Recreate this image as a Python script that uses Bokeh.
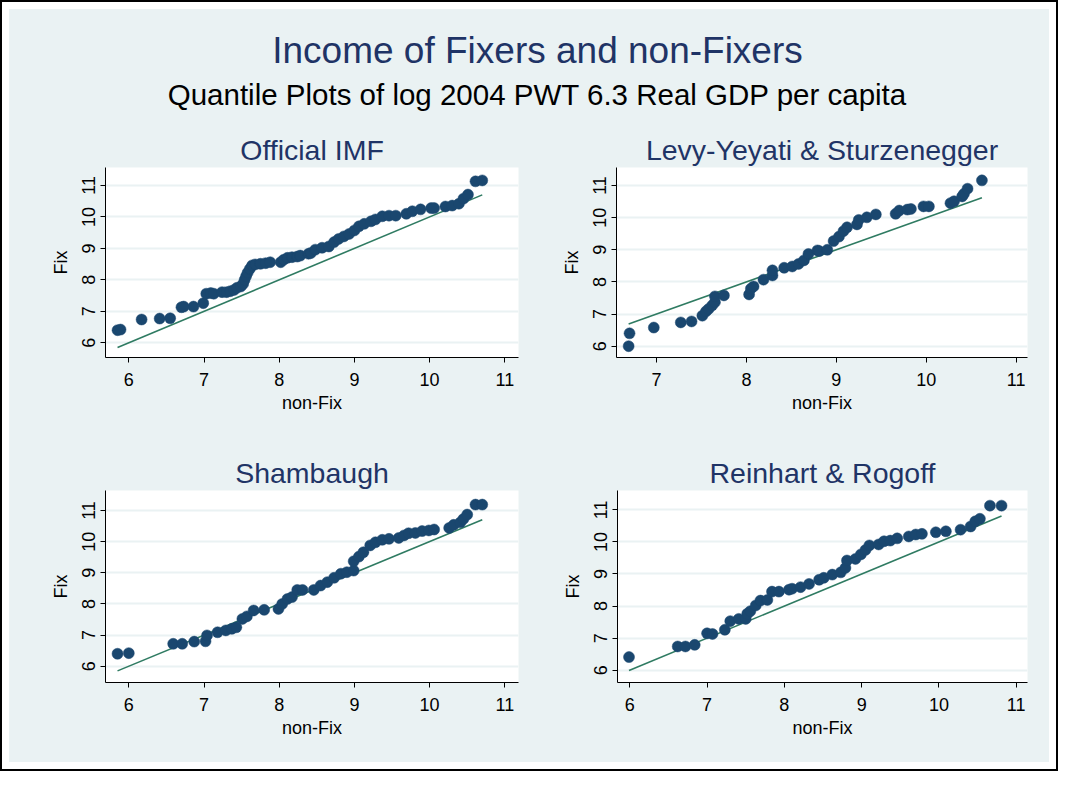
from bokeh.plotting import figure
from bokeh.layouts import column, row
from bokeh.models import Range1d, FixedTicker
from bokeh.embed import file_html
from bokeh.resources import INLINE
from bokeh.core.properties import value

# ---------------- data (quantiles) ----------------
main_title = "Income of Fixers and non-Fixers"
sub_title = "Quantile Plots of log 2004 PWT 6.3 Real GDP per capita"
panel_titles = ["Official IMF", "Levy-Yeyati & Sturzenegger", "Shambaugh", "Reinhart & Rogoff"]
x_label = "non-Fix"
y_label = "Fix"
tick_vals = [6, 7, 8, 9, 10, 11]

imf_nonfix = [5.85, 5.89, 6.17, 6.41, 6.55, 6.70, 6.73, 6.86, 6.99, 7.03, 7.09, 7.13, 7.24, 7.30, 7.35,
              7.40, 7.44, 7.49, 7.52, 7.54, 7.56, 7.58, 7.61, 7.64, 7.68, 7.75, 7.82, 7.88, 8.02, 8.06,
              8.11, 8.17, 8.24, 8.28, 8.39, 8.42, 8.48, 8.57, 8.66, 8.73, 8.79, 8.86, 8.93, 9.00, 9.06,
              9.13, 9.22, 9.28, 9.37, 9.46, 9.55, 9.69, 9.77, 9.88, 10.02, 10.06, 10.21, 10.30, 10.39,
              10.45, 10.51, 10.61, 10.70]
imf_fix = [6.40, 6.42, 6.74, 6.77, 6.78, 7.13, 7.15, 7.15, 7.26, 7.56, 7.58, 7.56, 7.61, 7.61, 7.64,
           7.68, 7.75, 7.79, 7.87, 8.00, 8.12, 8.23, 8.35, 8.46, 8.49, 8.51, 8.53, 8.56, 8.56, 8.64,
           8.70, 8.72, 8.74, 8.77, 8.83, 8.85, 8.96, 9.02, 9.06, 9.20, 9.30, 9.38, 9.46, 9.57, 9.70,
           9.78, 9.86, 9.92, 10.02, 10.04, 10.04, 10.10, 10.18, 10.24, 10.28, 10.28, 10.33, 10.36, 10.42,
           10.58, 10.71, 11.13, 11.16]

lys_nonfix = [6.69, 6.70, 6.97, 7.27, 7.39, 7.51, 7.55, 7.58, 7.62, 7.65, 7.65, 7.75, 8.03, 8.05, 8.08,
              8.19, 8.29, 8.29, 8.42, 8.51, 8.58, 8.64, 8.69, 8.79, 8.81, 8.90, 8.97, 9.03, 9.08, 9.12,
              9.23, 9.25, 9.34, 9.44, 9.66, 9.70, 9.79, 9.83, 9.97, 10.03, 10.27, 10.31, 10.40, 10.42,
              10.46, 10.62]
lys_fix = [6.00, 6.40, 6.58, 6.74, 6.77, 6.95, 7.08, 7.16, 7.27, 7.37, 7.55, 7.58, 7.61, 7.79, 7.86,
           8.07, 8.20, 8.36, 8.44, 8.48, 8.56, 8.67, 8.87, 8.98, 8.96, 9.00, 9.27, 9.41, 9.58, 9.70,
           9.79, 9.93, 10.01, 10.10, 10.12, 10.22, 10.25, 10.27, 10.35, 10.35, 10.45, 10.51, 10.66, 10.74,
           10.90, 11.16]

sham_nonfix = [5.85, 6.00, 6.59, 6.71, 6.87, 7.02, 7.04, 7.18, 7.29, 7.37, 7.43, 7.51, 7.57, 7.66, 7.80,
               7.99, 8.04, 8.11, 8.17, 8.24, 8.31, 8.46, 8.55, 8.64, 8.73, 8.82, 8.90, 8.99, 8.99, 9.06,
               9.12, 9.21, 9.28, 9.37, 9.46, 9.59, 9.66, 9.72, 9.81, 9.90, 9.99, 10.06, 10.26, 10.32,
               10.41, 10.45, 10.50, 10.61, 10.70]
sham_fix = [6.40, 6.42, 6.72, 6.72, 6.79, 6.80, 6.99, 7.09, 7.15, 7.20, 7.25, 7.52, 7.60, 7.79, 7.81,
            7.84, 8.00, 8.16, 8.22, 8.45, 8.45, 8.45, 8.59, 8.70, 8.84, 8.97, 9.02, 9.07, 9.37, 9.52,
            9.66, 9.88, 9.98, 10.06, 10.09, 10.12, 10.20, 10.27, 10.28, 10.34, 10.36, 10.39, 10.44, 10.54,
            10.62, 10.73, 10.87, 11.19, 11.19]

rr_nonfix = [5.99, 6.62, 6.72, 6.84, 7.00, 7.07, 7.23, 7.30, 7.41, 7.50, 7.52, 7.56, 7.63, 7.69, 7.78,
             7.84, 7.93, 8.06, 8.10, 8.21, 8.32, 8.45, 8.51, 8.62, 8.73, 8.79, 8.81, 8.92, 8.99, 9.05,
             9.10, 9.22, 9.29, 9.37, 9.46, 9.61, 9.70, 9.78, 9.96, 10.09, 10.28, 10.41, 10.47, 10.53,
             10.66, 10.81]
rr_fix = [6.41, 6.74, 6.74, 6.79, 7.15, 7.13, 7.26, 7.53, 7.60, 7.60, 7.76, 7.84, 8.02, 8.17, 8.19,
          8.45, 8.45, 8.51, 8.54, 8.59, 8.69, 8.82, 8.88, 8.98, 9.05, 9.19, 9.42, 9.47, 9.61, 9.75,
          9.89, 9.92, 10.02, 10.04, 10.11, 10.17, 10.23, 10.25, 10.30, 10.33, 10.38, 10.48, 10.64, 10.72,
          11.13, 11.13]

# ---------------- style ----------------
BG = "#EAF2F3"
NAVY = "#1A476F"
LINE_C = "#2F7B62"
TITLE_C = "#1F3466"
FONT = "Liberation Sans"


def panel(title, xs, ys, xr, yr, w, h, bl, br, bt, bb):
    p = figure(width=w, height=h, x_range=Range1d(*xr), y_range=Range1d(*yr),
               output_backend="svg", toolbar_location=None,
               min_border_left=bl, min_border_right=br, min_border_top=bt, min_border_bottom=bb)
    p.background_fill_color = "white"
    p.border_fill_color = BG
    p.outline_line_color = None
    p.title.text = title
    p.title.align = "center"
    p.title.text_font = FONT
    p.title.text_font_size = "28.5px"
    p.title.text_font_style = "normal"
    p.title.text_color = TITLE_C
    p.title.standoff = 4
    p.xgrid.visible = False
    p.ygrid.grid_line_color = BG
    p.ygrid.grid_line_width = 2
    for ax in (p.xaxis[0], p.yaxis[0]):
        ax.ticker = FixedTicker(ticks=tick_vals, minor_ticks=[])
        ax.axis_line_color = "black"
        ax.axis_line_width = 1
        ax.major_tick_line_color = "black"
        ax.major_tick_in = 0
        ax.major_tick_out = 5
        ax.major_label_text_font = FONT
        ax.major_label_text_font_size = "18px"
        ax.major_label_text_color = "black"
        ax.axis_label_text_font = FONT
        ax.axis_label_text_font_size = "18px"
        ax.axis_label_text_font_style = "normal"
        ax.axis_label_text_color = "black"
    p.xaxis.axis_label = x_label
    p.yaxis.axis_label = y_label
    p.xaxis.major_label_standoff = 10
    p.xaxis.axis_label_standoff = 4
    p.yaxis.major_label_orientation = "vertical"
    p.yaxis.major_label_standoff = 5
    p.yaxis.axis_label_standoff = 9
    line_x = [min(xs), max(xs)]
    p.line(line_x, line_x, line_color=LINE_C, line_width=1.6)
    p.scatter(xs, ys, size=11, fill_color=NAVY, line_color=NAVY, line_width=0.5)
    return p


header = figure(width=1040, height=116, x_range=Range1d(0, 1040), y_range=Range1d(116, 0),
                x_axis_type=None, y_axis_type=None, output_backend="svg", toolbar_location=None,
                min_border=0)
header.background_fill_color = BG
header.border_fill_color = BG
header.outline_line_color = None
header.grid.visible = False
header.text(x=[528], y=[41], text=[main_title], text_align="center", text_baseline="middle",
            text_font=value(FONT), text_font_size="37px", text_color=TITLE_C)
header.text(x=[528], y=[85], text=[sub_title], text_align="center", text_baseline="middle",
            text_font=value(FONT), text_font_size="29.5px", text_color="black")

p1 = panel(panel_titles[0], imf_nonfix, imf_fix, (5.690, 11.182), (5.533, 11.570), 528, 320, 96, 19, 42, 88)
p2 = panel(panel_titles[1], lys_nonfix, lys_fix, (6.555, 11.127), (5.648, 11.560), 512, 320, 79, 22, 42, 88)
p3 = panel(panel_titles[2], sham_nonfix, sham_fix, (5.690, 11.182), (5.477, 11.643), 528, 317, 96, 19, 45, 80)
p4 = panel(panel_titles[3], rr_nonfix, rr_fix, (5.841, 11.146), (5.617, 11.602), 512, 317, 80, 22, 45, 80)

r1 = row(p1, p2, styles={"background-color": BG})
r2 = row(p3, p4, styles={"background-color": BG})
inner = column(header, r1, r2, styles={"background-color": BG})
layout = column(inner, styles={"border": "2px solid black", "padding": "7px", "background-color": "white"})

open("out.html", "w").write(file_html(layout, INLINE))
